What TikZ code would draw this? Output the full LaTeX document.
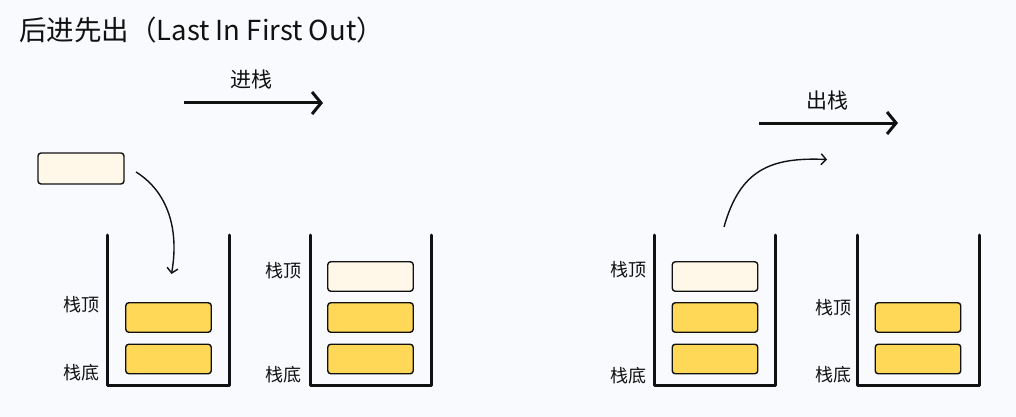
\documentclass[tikz,border=0pt]{standalone}
\usepackage{fontspec}
\newfontfamily\cjk{Noto Sans CJK SC}
\usetikzlibrary{arrows.meta}
\definecolor{bgc}{HTML}{F9FAFD}
\definecolor{ylw}{HTML}{FFD857}
\definecolor{crm}{HTML}{FFF8E8}
\definecolor{ink}{HTML}{111111}
\tikzset{
  ybox/.style={draw=ink, line width=1.4pt, rounded corners=3pt, fill=ylw, minimum width=85.5pt, minimum height=29.5pt, inner sep=0pt},
  cbox/.style={ybox, fill=crm},
  wall/.style={draw=ink, line width=3pt, line join=round, line cap=round},
  lbl/.style={font=\cjk\fontsize{18}{18}\selectfont, text=ink, inner sep=0pt},
  biglbl/.style={font=\cjk\fontsize{21}{21}\selectfont, text=ink, inner sep=0pt},
  bigarrow/.style={draw=ink, line width=3pt, -{Straight Barb[length=9pt,width=22pt,line width=3pt]}},
  curvearrow/.style={draw=ink, line width=1.4pt, -{Straight Barb[length=5pt,width=11pt,line width=1.4pt]}},
}
\begin{document}
\begin{tikzpicture}[x=1pt,y=-1pt]
\fill[bgc] (0,0) rectangle (1016,417);
\useasboundingbox (0,0) rectangle (1016,417);

% title
\node[anchor=west, font=\cjk\fontsize{27.5}{27.5}\selectfont, text=ink, inner sep=0pt] (title) at (19,30) {后进先出（Last In First Out）};

% push arrow
\coordinate (pa1) at (184,103);
\coordinate (pa2) at (323,103);
\draw[bigarrow] (pa1) -- (pa2);
\node[biglbl] (pushlbl) at (251,80) {进栈};

% pop arrow
\coordinate (po1) at (759,123);
\coordinate (po2) at (898,123);
\draw[bigarrow] (po1) -- (po2);
\node[biglbl] (poplbl) at (827,101) {出栈};

% stack 1
\draw[wall] (107,235) -- (107,385) -- (229,385) -- (229,235);
\node[ybox] (s1b1) at (168.5,317.5) {};
\node[ybox] (s1b2) at (168.5,359) {};
\node[lbl] (s1top) at (81,305) {栈顶};
\node[lbl] (s1bot) at (81,373) {栈底};
\node[cbox, minimum width=86pt, minimum height=31pt] (fbox) at (81,168.5) {};
\coordinate (c1s) at (136,172);
\coordinate (c1e) at (171.5,274);
\draw[curvearrow] (c1s) .. controls (165,190) and (180,225) .. (c1e);

% stack 2
\draw[wall] (310,235) -- (310,385) -- (431,385) -- (431,235);
\node[cbox] (s2b0) at (370.5,276.5) {};
\node[ybox] (s2b1) at (370.5,317.5) {};
\node[ybox] (s2b2) at (370.5,359) {};
\node[lbl] (s2top) at (283,271) {栈顶};
\node[lbl] (s2bot) at (283,375) {栈底};

% stack 3
\draw[wall] (654.5,235) -- (654.5,385) -- (775.5,385) -- (775.5,235);
\node[cbox] (s3b0) at (715,276.5) {};
\node[ybox] (s3b1) at (715,317.5) {};
\node[ybox] (s3b2) at (715,359) {};
\node[lbl] (s3top) at (628,270) {栈顶};
\node[lbl] (s3bot) at (628,376) {栈底};
\coordinate (c2s) at (724,227);
\coordinate (c2e) at (827,159.5);
\draw[curvearrow] (c2s) .. controls (740,170) and (770,157) .. (c2e);

% stack 4
\draw[wall] (857.5,235) -- (857.5,385) -- (979.5,385) -- (979.5,235);
\node[ybox] (s4b1) at (918,317.5) {};
\node[ybox] (s4b2) at (918,359) {};
\node[lbl] (s4top) at (833,308) {栈顶};
\node[lbl] (s4bot) at (833,375) {栈底};
\end{tikzpicture}
\end{document}
